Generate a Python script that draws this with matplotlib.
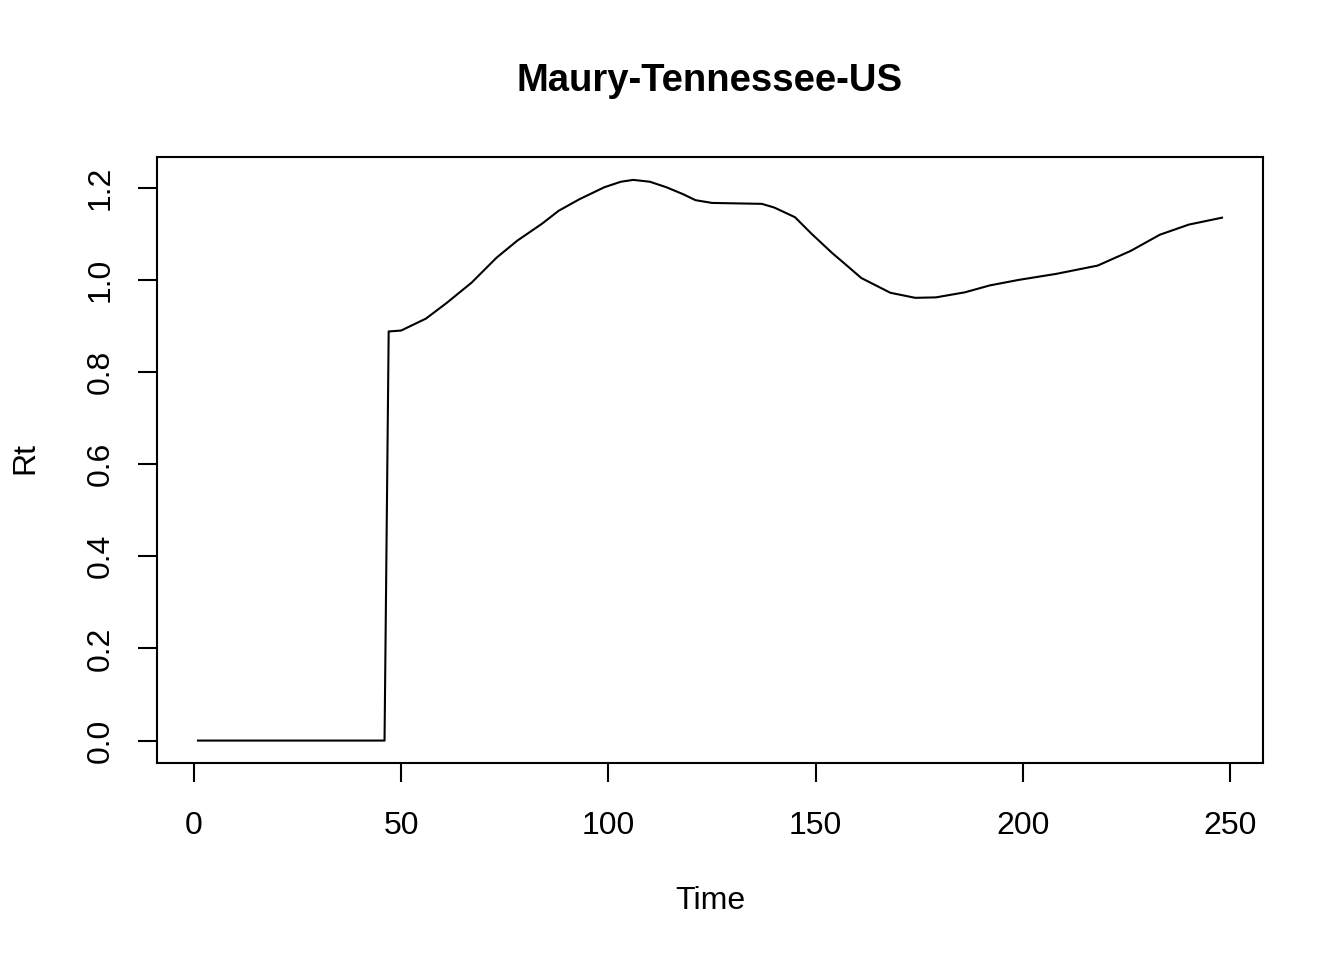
import matplotlib
matplotlib.use("Agg")
import matplotlib.pyplot as plt

plt.rcParams['font.family'] = ['Liberation Sans', 'DejaVu Sans']

# Rt estimate (time, value)
time = [1, 46, 47, 50, 56, 61, 67, 73, 78, 84, 88, 93, 99, 103, 106, 110,
        114, 118, 121, 125, 137, 140, 145, 149, 154, 157, 161, 168, 174, 179,
        186, 192, 199, 208, 218, 226, 233, 240, 248]
rt = [0.0, 0.0, 0.888, 0.890, 0.916, 0.950, 0.994, 1.048, 1.085, 1.122,
      1.150, 1.175, 1.201, 1.213, 1.217, 1.213, 1.201, 1.186, 1.173, 1.167,
      1.165, 1.157, 1.136, 1.100, 1.058, 1.035, 1.004, 0.972, 0.961, 0.962,
      0.973, 0.988, 1.000, 1.013, 1.031, 1.063, 1.098, 1.120, 1.135]

x_ticks = [0, 50, 100, 150, 200, 250]
y_ticks = [0.0, 0.2, 0.4, 0.6, 0.8, 1.0, 1.2]

W, H = 1344, 960
fig = plt.figure(figsize=(W / 100, H / 100), dpi=100)
# plot box in pixels: left 157, right 1263, top 157, bottom 763
ax = fig.add_axes([157 / W, 1 - 763 / H, (1263 - 157) / W, (763 - 157) / H])

ax.plot(time, rt, color='black', lw=1.5)

ax.set_xlim(-8.88, 257.88)
ax.set_ylim(-0.0487, 1.2667)
ax.set_xticks(x_ticks)
ax.set_xticklabels([str(t) for t in x_ticks])
ax.set_yticks(y_ticks)
ax.set_yticklabels([f"{t:.1f}" for t in y_ticks], rotation=90, va='center')

for s in ax.spines.values():
    s.set_linewidth(1.5)
ax.tick_params(axis='both', direction='out', length=14, width=1.5,
               labelsize=23)
ax.tick_params(axis='x', pad=20.5)
ax.tick_params(axis='y', pad=15.5)

fig.text(710 / W, 1 - 81 / H, "Maury-Tennessee-US", ha='center', va='center',
         fontsize=27.5, fontweight='bold')
fig.text(710 / W, 1 - 901 / H, "Time", ha='center', va='center', fontsize=23)
fig.text(25 / W, 1 - 458 / H, "Rt", ha='center', va='center', fontsize=23,
         rotation=90)

fig.savefig("out.png", dpi=100)
